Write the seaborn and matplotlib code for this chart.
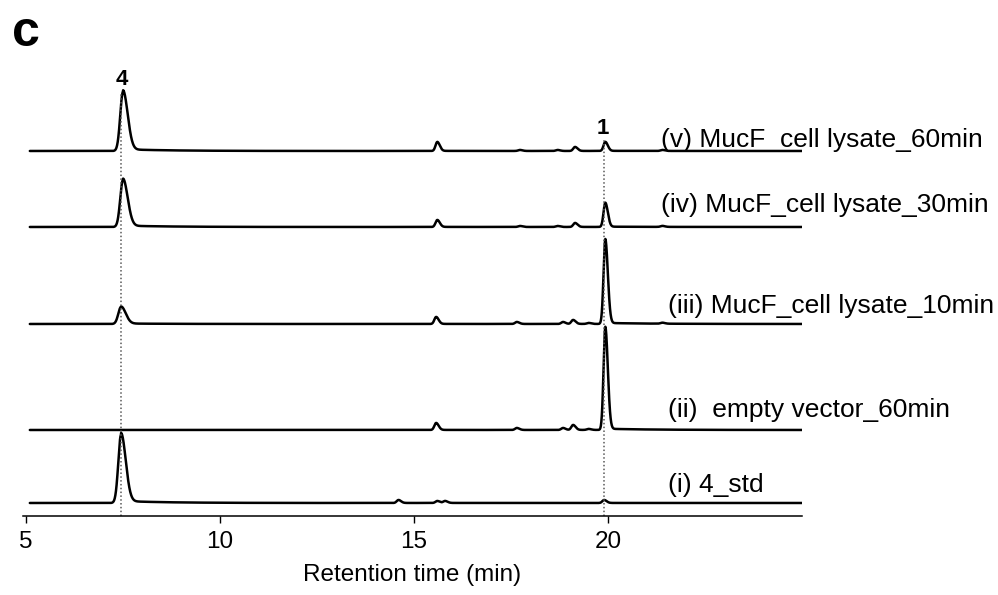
import numpy as np
import pandas as pd
import seaborn as sns
import matplotlib.pyplot as plt

# retention time grid (min)
time = np.arange(5.1, 25.0, 0.004)

labels = ["(v) MucF_cell lysate_60min", "(iv) MucF_cell lysate_30min",
          "(iii) MucF_cell lysate_10min", "(ii)  empty vector_60min", "(i) 4_std"]
baselines = [365, 289, 192, 86, 13]

# peaks: retention time, height
rt_v = [7.5, 15.6, 17.73, 18.7, 19.15, 19.93, 21.4]
h_v = [59, 9, 1, 1, 4, 9, 1]
rt_iv = [7.5, 15.6, 17.73, 18.7, 19.15, 19.93, 21.4]
h_iv = [47, 7, 1, 1, 4, 24, 1]
rt_iii = [7.45, 15.57, 17.65, 18.84, 19.1, 19.5, 19.93, 21.4]
h_iii = [17, 7, 2, 2, 4, 1, 84, 1]
rt_ii = [15.57, 17.65, 18.84, 19.1, 19.5, 19.93]
h_ii = [7, 2, 2, 5, 1, 102]
rt_i = [7.45, 14.6, 15.6, 15.8, 19.9]
h_i = [68, 3, 2, 2, 3]

peak_rts = [rt_v, rt_iv, rt_iii, rt_ii, rt_i]
peak_hs = [h_v, h_iv, h_iii, h_ii, h_i]

std_rt = [7.45, 19.9]
std_names = ["4", "1"]


def trace(rts, hs):
    y = np.zeros_like(time)
    for rt, h in zip(rts, hs):
        wl, wr, tail = (0.07, 0.12, 0.03) if rt < 10 else (0.045, 0.065, 0.012)
        w = np.where(time < rt, wl, wr)
        y += h * np.exp(-0.5 * ((time - rt) / w) ** 2)
        # slow tailing after the peak
        y += np.where(time > rt, tail * h * np.exp(-(time - rt) / 1.2), 0)
    return y


sns.set_style("ticks")
plt.rcParams['font.family'] = ['Liberation Sans', 'DejaVu Sans']
plt.rcParams['text.color'] = 'black'
plt.rcParams['axes.labelcolor'] = 'black'
plt.rcParams['xtick.color'] = 'black'
plt.rcParams['axes.edgecolor'] = 'black'

fig = plt.figure(figsize=(9.98, 5.95), dpi=100)
ax = fig.add_axes([0.0227, 0.1328, 0.7809, 0.7664])

for lab, base, rts, hs in zip(labels, baselines, peak_rts, peak_hs):
    df = pd.DataFrame({"t": time, "y": base + trace(rts, hs)})
    sns.lineplot(data=df, x="t", y="y", ax=ax, color="black", lw=1.8,
                 estimator=None, sort=False)

ax.vlines(std_rt[0], 0, 423, colors="0.35", linestyles=(0, (1, 1.5)), lw=1.1)
ax.vlines(std_rt[1], 0, 376, colors="0.35", linestyles=(0, (1, 1.5)), lw=1.1)
ax.text(7.47, 436, std_names[0], ha="center", va="center", fontsize=16, fontweight="bold")
ax.text(19.87, 387, std_names[1], ha="center", va="center", fontsize=16, fontweight="bold")

label_x = [21.37, 21.37, 21.55, 21.55, 21.55]
label_y = [369, 304, 203, 99, 24]
for lab, lx, ly in zip(labels, label_x, label_y):
    ax.text(lx, ly, lab, ha="left", va="baseline", fontsize=19, clip_on=False)

ax.set_xlim(4.915, 25.0)
ax.set_ylim(0, 456)
ax.set_xticks([5, 10, 15, 20])
ax.set_yticks([])
ax.tick_params(axis="x", direction="out", length=5, width=1, labelsize=17.5, pad=6)
ax.set_xlabel("Retention time (min)", fontsize=17.5, labelpad=8)
ax.set_ylabel("")
sns.despine(ax=ax, left=True)
ax.spines["bottom"].set_linewidth(1.1)

fig.text(26 / 998, 1 - 33 / 595, "c", ha="center", va="center", fontsize=36, fontweight="bold")

fig.savefig("out.png", dpi=100)
